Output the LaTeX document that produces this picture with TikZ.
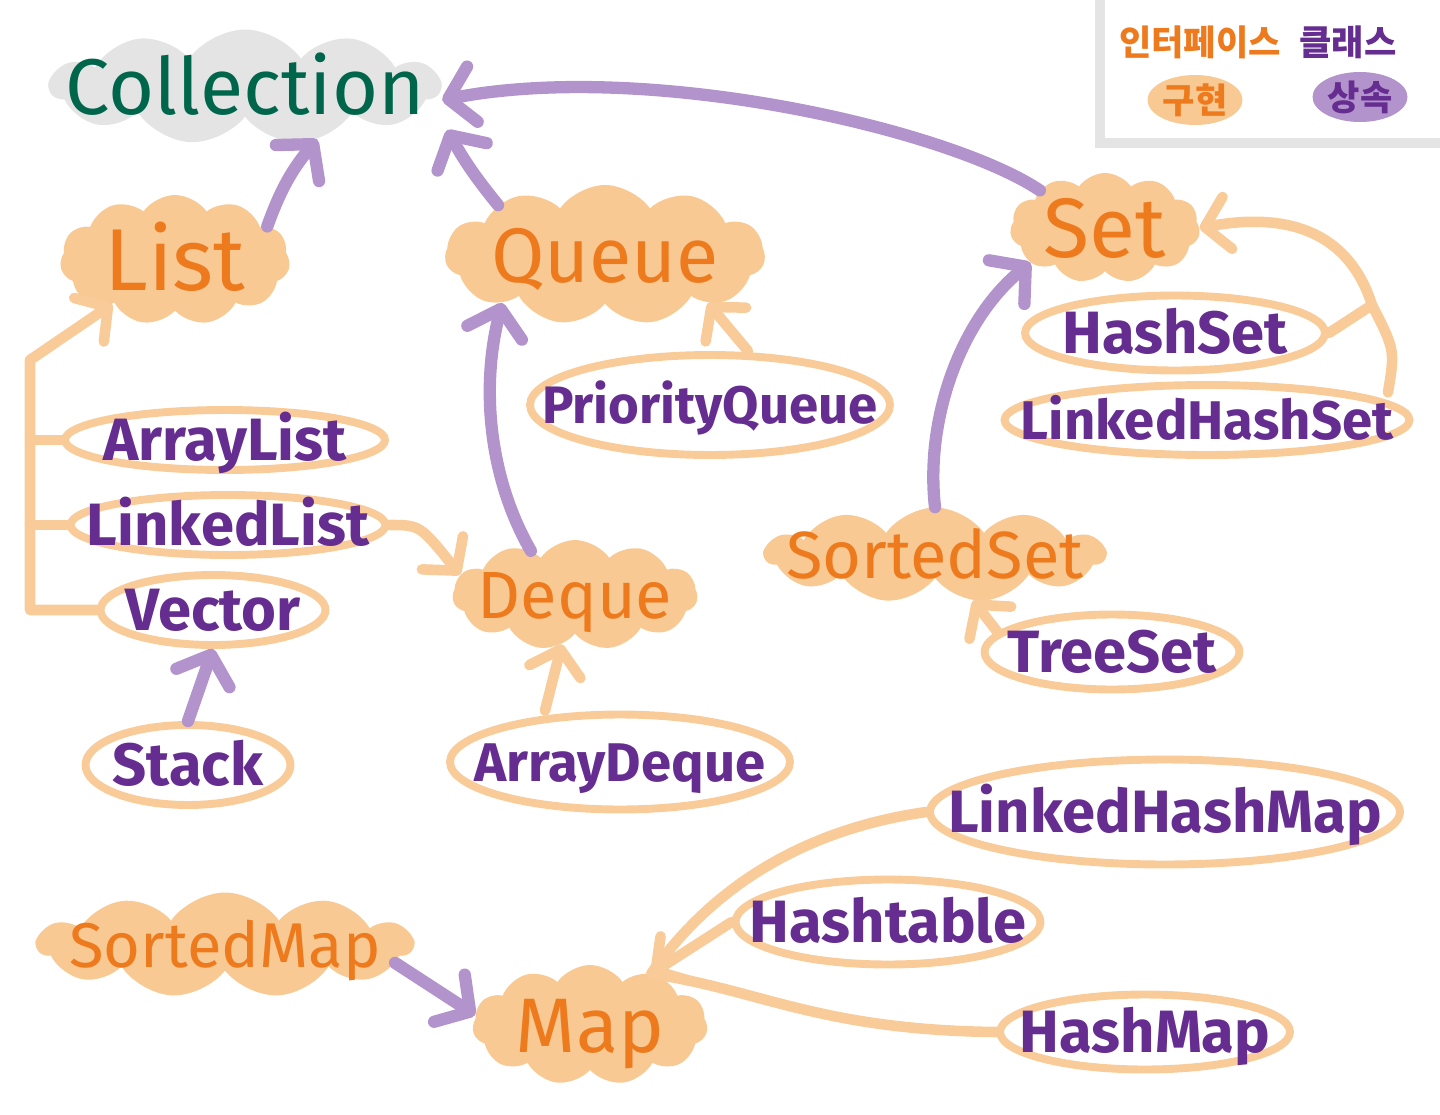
\documentclass[tikz,border=0pt]{standalone}
\usepackage{fontspec}
\setmainfont{Fira Sans}
\newfontfamily\krfont{Noto Sans CJK KR}
\usetikzlibrary{arrows.meta,positioning,shapes.symbols,shapes.geometric}
\definecolor{blobfill}{HTML}{F9C993}
\definecolor{ifacetext}{HTML}{EE7A1E}
\definecolor{clstext}{HTML}{662D91}
\definecolor{inhline}{HTML}{B393CC}
\definecolor{implline}{HTML}{F9CB98}
\definecolor{rootfill}{HTML}{E4E4E4}
\definecolor{roottext}{HTML}{00664B}
% text without size, so the blob keeps the size that is asked for
\newcommand{\cname}[1]{\makebox[0pt]{\raisebox{-0.35em}[0pt][0pt]{#1}}}

\begin{document}
\begin{tikzpicture}[x=0.02cm, y=-0.02cm,
  iface/.style={cloud, cloud puffs=11, cloud puff arc=110, cloud ignores aspect,
    fill=blobfill, text=ifacetext, font=\fontsize{44}{48}\selectfont, inner sep=0pt},
  root/.style={iface, fill=rootfill, text=roottext, font=\fontsize{45}{50}\selectfont},
  cls/.style={ellipse, draw=implline, line width=4.5pt, text=clstext,
    font=\bfseries\fontsize{34}{36}\selectfont, inner sep=0pt},
  inh/.style={draw=inhline, line width=7pt, line cap=round, line join=round,
    -{Straight Barb[length=14pt, width=32pt, round]}},
  impl/.style={draw=implline, line width=6pt, line cap=round, line join=round,
    -{Straight Barb[length=13pt, width=30pt, round]}},
  impline/.style={draw=implline, line width=6pt, line cap=round, line join=round},
  lgtext/.style={font=\krfont\bfseries\fontsize{20}{22}\selectfont, inner sep=0pt},
  lgblob/.style={ellipse, lgtext, minimum width=1.9cm, minimum height=1.0cm}
]
  \useasboundingbox (0,0) rectangle (1440,1115);

  % legend frame, top right
  \draw[draw=rootfill, line width=6pt] (1100,-10) |- (1450,143);
  \node[lgtext, text=ifacetext] (lgIface) at (1200,42) {인터페이스};
  \node[lgtext, text=clstext] (lgClass) at (1348,42) {클래스};
  \node[lgblob, fill=blobfill, text=ifacetext] (lgImpl) at (1195,100) {구현};
  \node[lgblob, fill=inhline, text=clstext] (lgInh) at (1360,97) {상속};

  % interfaces
  \node[root, minimum width=7.8cm, minimum height=2.3cm] (Collection) at (245,87) {\cname{Collection}};
  \node[iface, minimum width=4.6cm, minimum height=2.6cm, font=\fontsize{50}{54}\selectfont] (List) at (175,260) {\cname{List}};
  \node[iface, minimum width=6.4cm, minimum height=2.8cm] (Queue) at (605,255) {\cname{Queue}};
  \node[iface, minimum width=3.8cm, minimum height=2.2cm, font=\fontsize{48}{52}\selectfont] (Set) at (1105,228) {\cname{Set}};
  \node[iface, minimum width=4.9cm, minimum height=2.2cm, font=\fontsize{38}{42}\selectfont] (Deque) at (575,595) {\cname{Deque}};
  \node[iface, minimum width=6.8cm, minimum height=1.9cm, font=\fontsize{38}{42}\selectfont] (SortedSet) at (935,555) {\cname{SortedSet}};
  \node[iface, minimum width=7.5cm, minimum height=2.1cm, font=\fontsize{36}{40}\selectfont] (SortedMap) at (225,945) {\cname{SortedMap}};
  \node[iface, minimum width=4.7cm, minimum height=2.4cm] (Map) at (590,1025) {\cname{Map}};

  % classes
  \node[cls, minimum width=6.4cm, minimum height=1.2cm] (ArrayList) at (225,440) {\cname{ArrayList}};
  \node[cls, minimum width=6.3cm, minimum height=1.2cm] (LinkedList) at (228,525) {\cname{LinkedList}};
  \node[cls, minimum width=4.5cm, minimum height=1.4cm] (Vector) at (213,610) {\cname{Vector}};
  \node[cls, minimum width=4.1cm, minimum height=1.6cm] (Stack) at (188,765) {\cname{Stack}};
  \node[cls, minimum width=7.2cm, minimum height=2.0cm, font=\bfseries\fontsize{30}{32}\selectfont] (PriorityQueue) at (710,405) {\cname{PriorityQueue}};
  \node[cls, minimum width=6.8cm, minimum height=1.9cm, font=\bfseries\fontsize{31}{33}\selectfont] (ArrayDeque) at (620,762) {\cname{ArrayDeque}};
  \node[cls, minimum width=6.0cm, minimum height=1.5cm] (HashSet) at (1175,333) {\cname{HashSet}};
  \node[cls, minimum width=8.1cm, minimum height=1.4cm, font=\bfseries\fontsize{31}{33}\selectfont] (LinkedHashSet) at (1207,420) {\cname{LinkedHashSet}};
  \node[cls, minimum width=5.1cm, minimum height=1.5cm] (TreeSet) at (1112,652) {\cname{TreeSet}};
  \node[cls, minimum width=9.4cm, minimum height=2.1cm] (LinkedHashMap) at (1165,812) {\cname{LinkedHashMap}};
  \node[cls, minimum width=6.1cm, minimum height=1.7cm] (Hashtable) at (888,922) {\cname{Hashtable}};
  \node[cls, minimum width=5.8cm, minimum height=1.5cm] (HashMap) at (1145,1032) {\cname{HashMap}};

  % inheritance (purple)
  \draw[inh] (List.20) to[bend left=10] (Collection.-36);
  \draw[inh] (Queue.155) to[bend left=5] ([shift={(5,43)}]Collection.east);
  \draw[inh] (Set.150) .. controls (950,130) and (650,60) .. ([shift={(0,13)}]Collection.east);
  \draw[inh] (Deque.135) .. controls (490,480) and (480,390) .. (Queue.-155);
  \draw[inh] (SortedSet.north) .. controls (925,420) and (960,320) .. (Set.-155);
  \draw[inh] (Stack.north) -- (Vector.south);
  \draw[inh] (SortedMap.-6) -- (Map.175);

  % implementation (orange)
  \coordinate (listbus) at (30,360);
  \coordinate (setjoin) at (1372,305);
  \draw[impl] (Vector.west) -| (listbus) -- (List.-145);
  \draw[impline] (ArrayList.west) -- (ArrayList.west -| listbus);
  \draw[impline] (LinkedList.west) -- (LinkedList.west -| listbus);
  \draw[impl] (LinkedList.east) .. controls (420,525) .. (Deque.170);
  \draw[impl] ([shift={(38,0)}]PriorityQueue.north) -- (Queue.-25);
  \draw[impl] ([shift={(-75,0)}]ArrayDeque.north) -- (Deque.-105);
  \draw[impl] (TreeSet.170) -- (SortedSet.-50);
  \draw[impl] ([shift={(35,0)}]LinkedHashSet.north east) .. controls (1395,350) .. (setjoin)
    .. controls (1345,220) and (1270,215) .. (Set.east);
  \draw[impline] (HashSet.east) -- (setjoin);
  \draw[impl] (Hashtable.west) -- (Map.40);
  \draw[impline] (LinkedHashMap.west) .. controls (800,830) and (710,890) .. (Map.40);
  \draw[impline] (HashMap.west) .. controls (820,1030) and (760,990) .. (Map.40);
\end{tikzpicture}
\end{document}
